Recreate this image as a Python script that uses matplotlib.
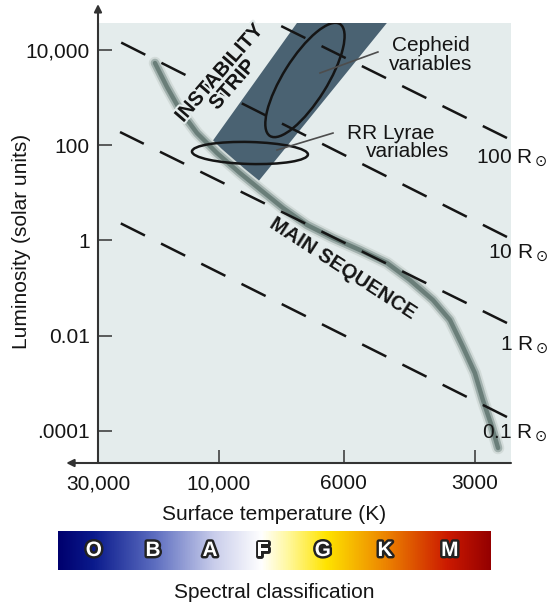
import numpy as np
import matplotlib
matplotlib.use("Agg")
import matplotlib.pyplot as plt
import matplotlib.patheffects as pe
from matplotlib.patches import Ellipse, Polygon
from matplotlib.colors import LinearSegmentedColormap
from matplotlib.ticker import NullLocator
from matplotlib.transforms import ScaledTranslation

plt.rcParams['font.family'] = ['Liberation Sans', 'DejaVu Sans']

# temperature axis is stretched like the spectral classes, not a plain log axis
axis_temps = [50000, 30000, 10000, 6000, 3000, 2000]
axis_pos = [-56, 0, 121, 246, 377, 454]

temp_ticks = [30000, 10000, 6000, 3000]
temp_labels = ['30,000', '10,000', '6000', '3000']
lum_ticks = [1e4, 1e2, 1, 1e-2, 1e-4]
lum_labels = ['10,000', '100', '1', '0.01', '.0001']

# main sequence (K, solar units)
ms_temp = [17880, 16030, 14250, 12210, 10180, 9180, 8386, 7697, 6978, 6274,
           5512, 4775, 4230, 3746, 3423, 3195, 3000, 2875, 2741, 2655]
ms_lum = [5330, 1670, 548, 180, 68.5, 26.1, 10.9, 4.80, 2.11, 1.12,
          0.628, 0.335, 0.147, 0.056, 0.0213, 0.00577, 0.00164, 4.4e-4, 1.2e-4, 4.35e-5]

# lines of constant radius: (end at right, start at left)
radius_names = ['100 R$_\\odot$', '10 R$_\\odot$', '1 R$_\\odot$', '0.1 R$_\\odot$']
radius_temp = [(2533, 7954), (2533, 24560), (2533, 24560), (2533, 24560)]
radius_lum = [(141.6, 36900), (1.18, 14730), (0.0184, 189), (1.95e-4, 2.32)]
radius_label_lum = [53.8, 0.543, 0.00635, 9.0e-5]

# instability strip corners
strip_temp = [10660, 8560, 4780, 7270]
strip_lum = [117, 16, 36900, 36900]

# variable star regions: centre temp, centre lum
cepheid_center = (7036, 2344)
rrlyrae_center = (8810, 68.6)

spectral_classes = ['O', 'B', 'A', 'F', 'G', 'K', 'M']
spectral_pos = [0.083, 0.22, 0.352, 0.474, 0.613, 0.757, 0.907]
spec_stops = [0.0, 0.08, 0.22, 0.36, 0.47, 0.53, 0.62, 0.76, 0.9, 1.0]
spec_colors = ['#00006e', '#0a1a8c', '#5b6cbf', '#c9cdeb', '#ffffff',
               '#fff8a0', '#ffe400', '#ec8200', '#cc1a00', '#950000']

bg = '#e4ecec'
ink = '#151515'


# increasing in T; the axis is inverted with set_xlim
def fwd(t):
    t = np.clip(np.asarray(t, dtype=float), 1, None)
    return -np.interp(-np.log10(t), -np.log10(axis_temps), axis_pos)


def inv(q):
    return 10 ** (-np.interp(-np.asarray(q, dtype=float), axis_pos, -np.log10(axis_temps)))


fig = plt.figure(figsize=(5.52, 6.06), dpi=100)
ax = fig.add_axes([98 / 552, 143 / 606, 413 / 552, 440 / 606])
ax.set_facecolor(bg)
ax.set_xscale('function', functions=(fwd, inv))
ax.set_yscale('log')

for s in ax.spines.values():
    s.set_visible(False)

ax.set_xticks(temp_ticks)
ax.set_xticklabels(temp_labels)
ax.set_yticks(lum_ticks)
ax.set_yticklabels(lum_labels)
ax.yaxis.set_minor_locator(NullLocator())
ax.xaxis.set_minor_locator(NullLocator())
ax.set_xlim(30000, 2480)
ax.set_ylim(2.11e-5, 3.69e4)
ax.tick_params(axis='x', direction='in', length=9.5, width=1.1, color='#333333',
               labelsize=15, pad=8, labelcolor=ink)
ax.tick_params(axis='y', direction='in', length=10, width=1.1, color='#333333',
               labelsize=15, pad=6, labelcolor=ink)

# axis lines with arrows
arrow = dict(arrowstyle='-|>', color='#333333', lw=1.5, mutation_scale=11,
             shrinkA=0, shrinkB=0)
ax.annotate('', xy=(0, 1.043), xytext=(0, 0), xycoords='axes fraction',
            arrowprops=arrow, annotation_clip=False)
ax.annotate('', xy=(-0.077, 0), xytext=(1, 0), xycoords='axes fraction',
            arrowprops=arrow, annotation_clip=False)

# instability strip
ax.add_patch(Polygon(list(zip(strip_temp, strip_lum)), closed=True,
                     facecolor='#4a6272', edgecolor='none', zorder=1))

# main sequence band, soft edges
ax.plot(ms_temp, ms_lum, color='#d2dbd9', lw=9, solid_capstyle='round',
        solid_joinstyle='round', zorder=2)
ax.plot(ms_temp, ms_lum, color='#a1b0ad', lw=6.2, solid_capstyle='round',
        solid_joinstyle='round', zorder=2)
ax.plot(ms_temp, ms_lum, color='#6a7e79', lw=3.2, solid_capstyle='round',
        solid_joinstyle='round', zorder=2)

# constant radius lines
ytrans = ax.get_yaxis_transform()
for name, tt, ll, lab in zip(radius_names, radius_temp, radius_lum, radius_label_lum):
    ax.plot(tt, ll, color=ink, lw=1.8, linestyle=(0, (10.8, 7.2)), zorder=3)
    ax.text(1.0896, lab, name, transform=ytrans, ha='right', va='center',
            fontsize=15, color=ink, clip_on=False)

# variable star ellipses (size in inches, centred on data point)
for c, w, h, ang in [(cepheid_center, 1.32, 0.44, 58), (rrlyrae_center, 1.16, 0.22, -1.5)]:
    tr = fig.dpi_scale_trans + ScaledTranslation(c[0], c[1], ax.transData)
    ax.add_patch(Ellipse((0, 0), w, h, angle=ang, transform=tr, fill=False,
                         edgecolor=ink, lw=1.8, zorder=5))

ax.plot([6616, 5012], [3289, 9080], color='#4d4d4d', lw=1.2, zorder=5)
ax.plot([7889, 6274], [79.2, 180], color='#4d4d4d', lw=1.2, zorder=5)

ax.text(3784, 7850, 'Cepheid\nvariables', ha='center', va='center', fontsize=15,
        color=ink, linespacing=0.95, zorder=6)
ax.text(4677, 180, 'RR Lyrae', ha='center', va='center', fontsize=15, color=ink, zorder=6)
ax.text(4276, 75.5, 'variables', ha='center', va='center', fontsize=15, color=ink, zorder=6)

halo = [pe.withStroke(linewidth=3, foreground=bg)]
ax.text(9719, 2460, 'INSTABILITY\nSTRIP', ha='center', va='center', rotation=49,
        fontsize=14.5, fontweight='bold', color=ink, linespacing=0.9, zorder=6,
        path_effects=halo)
ax.text(6026, 0.263, 'MAIN SEQUENCE', ha='center', va='center', rotation=-33,
        fontsize=14.5, fontweight='bold', color=ink, zorder=6)

fig.text(22 / 552, 1 - 241 / 606, 'Luminosity (solar units)', rotation=90,
         ha='center', va='center', fontsize=15, color=ink)
fig.text(274 / 552, 1 - 514 / 606, 'Surface temperature (K)',
         ha='center', va='center', fontsize=15, color=ink)

# spectral class colour bar
cmap = LinearSegmentedColormap.from_list('spec', list(zip(spec_stops, spec_colors)))
cax = fig.add_axes([58 / 552, 36 / 606, 432 / 552, 39 / 606])
cax.imshow(np.linspace(0, 1, 512)[None, :], aspect='auto', cmap=cmap,
           extent=(0, 1, 0, 1))
cax.set_xlim(0, 1)
cax.set_ylim(0, 1)
cax.set_axis_off()
for letter, pos in zip(spectral_classes, spectral_pos):
    cax.text(pos, 0.5, letter, ha='center', va='center', fontsize=15,
             fontweight='bold', color='white',
             path_effects=[pe.withStroke(linewidth=3.5, foreground='#222222')])

fig.text(274 / 552, 1 - 593 / 606, 'Spectral classification',
         ha='center', va='center', fontsize=15, color=ink)

fig.savefig('out.png', dpi=100, facecolor='white')
